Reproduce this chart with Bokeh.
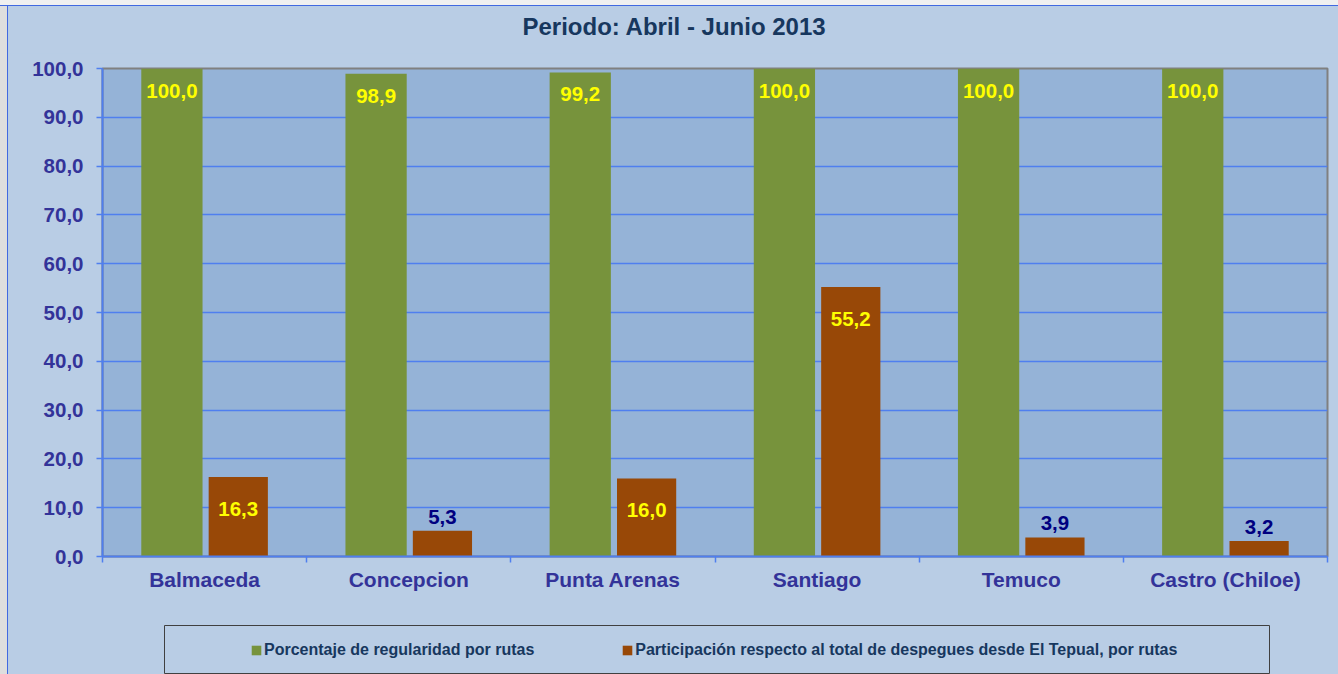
from bokeh.plotting import figure
from bokeh.models import ColumnDataSource, Range1d, FixedTicker, Legend, LegendItem, Spacer
from bokeh.layouts import column, row
from bokeh.transform import dodge
from bokeh.core.properties import value
from bokeh.embed import file_html
from bokeh.resources import INLINE

# ---------------- data ----------------
categories = ["Balmaceda", "Concepcion", "Punta Arenas", "Santiago", "Temuco", "Castro (Chiloe)"]
regularidad = [100.0, 98.9, 99.2, 100.0, 100.0, 100.0]
participacion = [16.3, 5.3, 16.0, 55.2, 3.9, 3.2]
series_names = [
    "Porcentaje de regularidad por rutas",
    "Participación respecto al total de despegues desde El Tepual, por rutas",
]
y_ticks = [0, 10, 20, 30, 40, 50, 60, 70, 80, 90, 100]
y_tick_labels = ["0,0", "10,0", "20,0", "30,0", "40,0", "50,0", "60,0", "70,0", "80,0", "90,0", "100,0"]
title_text = "Periodo: Abril - Junio  2013"

# ---------------- styles ----------------
FONT = "Liberation Sans"
GREEN = "#77933C"
ORANGE = "#984807"
PLOT_BG = "#95B3D7"
OUTER_BG = "#B9CDE5"
GRID = "#4F7FEF"
EDGE = "#4169E1"
AXIS_TXT = "#333399"
TITLE_TXT = "#17375E"


def fmt(v):
    return f"{v:.1f}".replace(".", ",")


n = len(categories)
xc = [i + 0.5 for i in range(n)]
inside = [v >= 10 for v in participacion]
src = ColumnDataSource(dict(
    xc=xc,
    reg=regularidad,
    par=participacion,
    reg_lbl=[fmt(v) for v in regularidad],
    par_lbl=[fmt(v) for v in participacion],
    par_col=["#FFFF00" if ins else "#000080" for ins in inside],
    par_off=[32 if ins else -14 for ins in inside],
))

# ---------------- title strip ----------------
p0 = figure(width=1330, height=47, x_range=Range1d(0, 1), y_range=Range1d(0, 1),
            output_backend="svg", toolbar_location=None,
            x_axis_location=None, y_axis_location=None,
            min_border_left=94, min_border_right=11, min_border_top=0, min_border_bottom=0)
p0.grid.visible = False
p0.background_fill_color = None
p0.border_fill_color = OUTER_BG
p0.outline_line_color = None
p0.title.text = title_text
p0.title.align = "left"
p0.title.offset = 420
p0.title.standoff = 8
p0.title.text_font = FONT
p0.title.text_font_size = "24px"
p0.title.text_font_style = "bold"
p0.title.text_color = TITLE_TXT

# ---------------- main chart ----------------
p = figure(width=1330, height=572, x_range=Range1d(0, n), y_range=Range1d(0, 100),
           output_backend="svg", toolbar_location=None,
           min_border_left=94, min_border_right=11, min_border_top=15, min_border_bottom=69)
p.background_fill_color = PLOT_BG
p.border_fill_color = OUTER_BG
p.outline_line_color = "#808080"
p.outline_line_width = 2

# bars
p.vbar(x=dodge("xc", -0.16, range=p.x_range), top="reg", width=0.30, source=src,
       fill_color=GREEN, line_color=None)
p.vbar(x=dodge("xc", 0.165, range=p.x_range), top="par", width=0.29, source=src,
       fill_color=ORANGE, line_color=None)

# labels
p.text(x=dodge("xc", -0.16, range=p.x_range), y="reg", text="reg_lbl", source=src,
       text_align="center", text_baseline="middle", y_offset=22,
       text_color="#FFFF00", text_font=value(FONT), text_font_size="20.5px",
       text_font_style="bold")
p.text(x=dodge("xc", 0.165, range=p.x_range), y="par", text="par_lbl", source=src,
       text_align="center", text_baseline="middle", y_offset="par_off",
       text_color="par_col", text_font=value(FONT), text_font_size="20.5px",
       text_font_style="bold")

# x axis
xa = p.xaxis[0]
xa.ticker = FixedTicker(ticks=xc, minor_ticks=list(range(n + 1)))
xa.major_label_overrides = {x: c for x, c in zip(xc, categories)}
xa.major_tick_out = 0
xa.major_tick_in = 0
xa.minor_tick_out = 6
xa.minor_tick_in = 0
xa.minor_tick_line_color = GRID
xa.minor_tick_line_width = 1.5
xa.axis_line_color = GRID
xa.axis_line_width = 2
xa.major_label_standoff = 5
xa.major_label_text_font = FONT
xa.major_label_text_font_size = "21px"
xa.major_label_text_font_style = "bold"
xa.major_label_text_color = AXIS_TXT

# y axis
ya = p.yaxis[0]
ya.ticker = FixedTicker(ticks=y_ticks)
ya.major_label_overrides = {t: l for t, l in zip(y_ticks, y_tick_labels)}
ya.major_tick_out = 6
ya.major_tick_in = 0
ya.minor_tick_out = 0
ya.minor_tick_in = 0
ya.major_tick_line_color = GRID
ya.major_tick_line_width = 1.5
ya.axis_line_color = GRID
ya.axis_line_width = 2
ya.major_label_standoff = 13
ya.major_label_text_font = FONT
ya.major_label_text_font_size = "20.5px"
ya.major_label_text_font_style = "bold"
ya.major_label_text_color = AXIS_TXT

p.xgrid.visible = False
p.ygrid.ticker = FixedTicker(ticks=y_ticks)
p.ygrid.grid_line_color = GRID
p.ygrid.grid_line_width = 1.5

# ---------------- legend panel ----------------
p2 = figure(width=1106, height=49, x_range=Range1d(0, 1), y_range=Range1d(0, 1),
            output_backend="svg", toolbar_location=None,
            x_axis_location=None, y_axis_location=None,
            min_border_left=0, min_border_right=0, min_border_top=0, min_border_bottom=0)
p2.grid.visible = False
p2.background_fill_color = OUTER_BG
p2.border_fill_color = OUTER_BG
p2.outline_line_color = "#404040"
p2.outline_line_width = 1
r1 = p2.vbar(x="xc", top="reg", width=0.3, source=src, fill_color=GREEN, line_color=None, visible=False)
r2 = p2.vbar(x="xc", top="par", width=0.3, source=src, fill_color=ORANGE, line_color=None, visible=False)
legend = Legend(items=[LegendItem(label=series_names[0], renderers=[r1]),
                       LegendItem(label=series_names[1], renderers=[r2])],
                orientation="horizontal", location=(86, 14), margin=0, padding=0,
                border_line_color=None, background_fill_alpha=0,
                glyph_width=12, glyph_height=12, label_standoff=2, spacing=87,
                label_height=20,
                label_text_font=FONT, label_text_font_size="16px",
                label_text_font_style="bold", label_text_color=TITLE_TXT)
p2.add_layout(legend, "center")

legend_row = row(
    Spacer(width=156, height=49, styles={"background-color": OUTER_BG}),
    p2,
    Spacer(width=68, height=49, styles={"background-color": OUTER_BG}),
    spacing=0,
)
chart = column(p0, p, legend_row, spacing=0, styles={"background-color": OUTER_BG})
layout = column(
    Spacer(width=1338, height=6, styles={"background-color": "#F0F0F0", "box-sizing": "border-box",
                                          "border-bottom": f"1px solid {EDGE}"}),
    row(Spacer(width=8, height=668, styles={"background-color": "#DEDEDE", "box-sizing": "border-box",
                                             "border-right": f"1px solid {EDGE}"}),
        chart, spacing=0),
    spacing=0,
)
open("out.html", "w").write(file_html(layout, INLINE))
